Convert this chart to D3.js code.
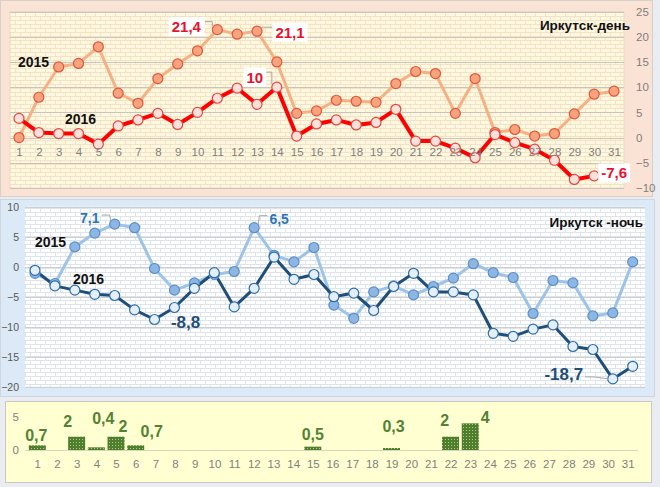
<!DOCTYPE html>
<html><head><meta charset="utf-8">
<script src="https://cdn.jsdelivr.net/npm/d3@7"></script>
<style>
html,body{margin:0;padding:0;background:#E9EDF2;}
svg{display:block;font-family:"Liberation Sans",Arial,sans-serif;}
</style></head>
<body>
<svg id="c" width="660" height="487"></svg>
<script>
// ---------- DATA ----------
const days = d3.range(1, 32);
const dayTicks = [-10, -5, 0, 5, 10, 15, 20, 25];
const nightTicks = [10, 5, 0, -5, -10, -15, -20];
const precipTicks = [0, 5];

const day2015 = [0.0, 8.0, 14.0, 14.7, 18.0, 8.8, 6.8, 11.7, 14.6, 17.2, 21.4, 20.5, 21.1, 15.0, 4.8, 5.3,
  7.4, 7.2, 7.0, 10.7, 13.1, 12.7, 4.8, 11.7, 1.0, 1.6, 0.3, 0.8, 4.7, 8.6, 9.2];
const day2016 = [3.8, 1.0, 0.8, 0.8, -1.3, 2.3, 3.5, 4.8, 2.6, 5.0, 7.8, 9.8, 6.6, 10.0, 0.3, 2.7,
  3.5, 2.5, 3.0, 5.6, -0.7, -0.7, -2.1, -4.0, 0.6, -1.0, -2.3, -4.5, -8.3, -7.6, null];
const night2015 = [-1.1, -2.8, 3.3, 5.6, 7.1, 6.5, -0.3, -3.9, -2.7, -1.3, -0.8, 6.5, 1.9, 0.8, 3.2, -6.4,
  -8.6, -4.2, -3.2, -4.7, -3.3, -1.9, 0.5, -1.0, -1.8, -7.8, -2.3, -2.7, -8.2, -7.7, 0.8];
const night2016 = [-0.6, -3.2, -3.9, -4.6, -4.8, -7.2, -8.8, -6.8, -3.6, -1.0, -6.7, -3.6, 1.6, -2.1, -1.3, -5.0,
  -4.4, -7.3, -3.3, -1.1, -4.2, -4.2, -4.7, -11.1, -11.6, -10.4, -9.7, -13.3, -13.8, -18.7, -16.6];
const precipDays = [1, 3, 4, 5, 6, 15, 19, 22, 23];
const precipValues = [0.7, 2, 0.4, 2, 0.7, 0.5, 0.3, 2, 4];

const dayLabels = [ // highlighted values
  {series: "2015", day: 11, text: "21,4"},
  {series: "2015", day: 13, text: "21,1"},
  {series: "2016", day: 14, text: "10"},
  {series: "2016", day: 30, text: "-7,6"}
];
const nightLabels = [
  {series: "2015", day: 5, text: "7,1"},
  {series: "2015", day: 12, text: "6,5"},
  {series: "2016", day: 7, text: "-8,8"},
  {series: "2016", day: 30, text: "-18,7"}
];
const precipLabels = ["0,7", "2", "0,4", "2", "0,7", "0,5", "0,3", "2", "4"];

// ---------- LAYOUT (positions only) ----------
const dayLabelOffsets = [[-31, -3], [33, 1], [-22, -10], [20, -3]];
const nightLabelOffsets = [[-25, -6], [25, -9], [31, 3], [-49, -4]];
const precipLabelOffsets = [[-1, -10], [-9, -15], [7, -29], [7, -10], [16, -14], [0, -12], [2, -22], [-6, -16], [15, -6]];

const svg = d3.select("#c");
const defs = svg.append("defs");

function brick(id, bg, line) {
  const p = defs.append("pattern").attr("id", id).attr("patternUnits", "userSpaceOnUse")
    .attr("width", 10).attr("height", 8);
  p.append("rect").attr("width", 10).attr("height", 8).attr("fill", bg);
  p.append("path").attr("d", "M0,0.5H10M0,4.5H10M0.5,0V4M5.5,4V8")
    .attr("stroke", line).attr("stroke-width", 1).attr("fill", "none");
}
brick("brickDay", "#FFF7E0", "#F1E4C4");
brick("brickNight", "#FFFFFF", "#DDE4EE");
const dots = defs.append("pattern").attr("id", "dots").attr("patternUnits", "userSpaceOnUse")
  .attr("width", 3).attr("height", 3);
dots.append("rect").attr("width", 3).attr("height", 3).attr("fill", "#4F7F2C");
dots.append("rect").attr("x", 1).attr("y", 1).attr("width", 1).attr("height", 1).attr("fill", "#A9C98E");

function styleAxis(g, color, size) {
  g.select(".domain").remove();
  g.selectAll("text").attr("fill", color).attr("font-size", size || 11.5).attr("font-family", "Liberation Sans, Arial");
}

// ================= TOP PANEL (day) =================
svg.append("rect").attr("x", 0.5).attr("y", 0.5).attr("width", 652).attr("height", 196)
  .attr("fill", "#FAE3D5").attr("stroke", "#D6D0CC");
const xD = d3.scaleLinear().domain([1, 31]).range([19, 614]);
const yD = d3.scaleLinear().domain([-10, 25]).range([188, 11.5]);
svg.append("rect").attr("x", 10).attr("y", 11.5).attr("width", 614).attr("height", 176.5)
  .attr("fill", "url(#brickDay)").attr("stroke", "#EADBC8");
const gD = svg.append("g");
gD.selectAll("line.grid").data(dayTicks).join("line")
  .attr("x1", 10).attr("x2", 624).attr("y1", d => Math.round(yD(d)) + 0.5).attr("y2", d => Math.round(yD(d)) + 0.5)
  .attr("stroke", "#C9C4BC").attr("stroke-width", 1);
const gAxR = svg.append("g").attr("transform", "translate(636,0)")
  .call(d3.axisRight(yD).tickValues(dayTicks).tickSize(0).tickPadding(0).tickFormat(d3.format("d")));
styleAxis(gAxR, "#7F7F7F");
const gAxBD = svg.append("g").attr("transform", `translate(0,${yD(0) + 10})`)
  .call(d3.axisBottom(xD).tickValues(days).tickSize(0).tickPadding(0).tickFormat(d3.format("d")));
styleAxis(gAxBD, "#7F7F7F");

const lineD = d3.line().defined(d => d[1] != null).x(d => xD(d[0])).y(d => yD(d[1]));
const d15 = days.map((d, i) => [d, day2015[i]]);
const d16 = days.map((d, i) => [d, day2016[i]]);
gD.append("path").attr("d", lineD(d15)).attr("fill", "none").attr("stroke", "#F4B183").attr("stroke-width", 3).attr("stroke-linejoin", "round");
gD.selectAll("circle.a").data(d15).join("circle").attr("class", "a")
  .attr("cx", d => xD(d[0])).attr("cy", d => yD(d[1])).attr("r", 5)
  .attr("fill", "#F6A47E").attr("stroke", "#E2553A").attr("stroke-width", 1.2);
gD.append("path").attr("d", lineD(d16)).attr("fill", "none").attr("stroke", "#FF0000").attr("stroke-width", 4).attr("stroke-linejoin", "round");
gD.selectAll("circle.b").data(d16.filter(d => d[1] != null)).join("circle").attr("class", "b")
  .attr("cx", d => xD(d[0])).attr("cy", d => yD(d[1])).attr("r", 5)
  .attr("fill", "#FCE0DA").attr("stroke", "#E2463C").attr("stroke-width", 1.2);

dayLabels.forEach((l, i) => {
  const arr = l.series === "2015" ? day2015 : day2016;
  const px = xD(l.day), py = yD(arr[l.day - 1]);
  const [ox, oy] = dayLabelOffsets[i];
  const cx = px + ox, cy = py + oy;
  const g = svg.append("g");
  const lead = g.append("path");
  const box = g.append("rect");
  const t = g.append("text").attr("x", cx).attr("y", cy).attr("text-anchor", "middle").attr("dominant-baseline", "central")
    .attr("font-weight", "bold").attr("font-size", 15).attr("fill", "#E8112D").text(l.text);
  const bb = t.node().getBBox();
  const edgeX = ox < 0 ? bb.x + bb.width + 3 : bb.x - 3;
  lead.attr("d", `M${edgeX},${cy - 5}H${px + (ox < 0 ? -5 : 5)}V${py - 3}`)
    .attr("stroke", "#A6A6A6").attr("fill", "none").attr("stroke-width", 1);
  box.attr("x", bb.x - 3).attr("y", bb.y - 1).attr("width", bb.width + 6).attr("height", bb.height + 2)
    .attr("fill", "#FFFFFF");
});
svg.append("text").attr("x", 630).attr("y", 25).attr("text-anchor", "end").attr("dominant-baseline", "central")
  .attr("font-weight", "bold").attr("font-size", 13.5).attr("fill", "#111").text("Иркутск-день");
svg.append("text").attr("x", 18).attr("y", 62).attr("dominant-baseline", "central")
  .attr("font-weight", "bold").attr("font-size", 14).attr("fill", "#111").text("2015");
svg.append("text").attr("x", 65).attr("y", 119).attr("dominant-baseline", "central")
  .attr("font-weight", "bold").attr("font-size", 14).attr("fill", "#111").text("2016");

// ================= MIDDLE PANEL (night) =================
svg.append("rect").attr("x", 0.5).attr("y", 199.5).attr("width", 654).attr("height", 197)
  .attr("fill", "#DCE9F6").attr("stroke", "#CFD6DE");
const xN = d3.scaleLinear().domain([1, 31]).range([35, 632.7]);
const yN = d3.scaleLinear().domain([-20, 10]).range([386.7, 206.7]);
svg.append("rect").attr("x", 25).attr("y", 206.7).attr("width", 620).attr("height", 180)
  .attr("fill", "url(#brickNight)");
const gN = svg.append("g");
gN.selectAll("line").data(nightTicks).join("line")
  .attr("x1", 25).attr("x2", 645).attr("y1", d => Math.round(yN(d)) + 0.5).attr("y2", d => Math.round(yN(d)) + 0.5)
  .attr("stroke", "#CFCFCF").attr("stroke-width", 1);
const gAxL = svg.append("g").attr("transform", "translate(19,0)")
  .call(d3.axisLeft(yN).tickValues(nightTicks).tickSize(0).tickPadding(0).tickFormat(d3.format("d")));
styleAxis(gAxL, "#595959", 10.5);

const lineN = d3.line().x(d => xN(d[0])).y(d => yN(d[1]));
const n15 = days.map((d, i) => [d, night2015[i]]);
const n16 = days.map((d, i) => [d, night2016[i]]);
gN.append("path").attr("d", lineN(n15)).attr("fill", "none").attr("stroke", "#9DC3E6").attr("stroke-width", 3).attr("stroke-linejoin", "round");
gN.append("path").attr("d", lineN(n16)).attr("fill", "none").attr("stroke", "#1F4E79").attr("stroke-width", 3).attr("stroke-linejoin", "round");
gN.selectAll("circle.a").data(n15).join("circle").attr("class", "a")
  .attr("cx", d => xN(d[0])).attr("cy", d => yN(d[1])).attr("r", 5)
  .attr("fill", "#8DB7E2").attr("stroke", "#5B8ECB").attr("stroke-width", 1.2);
gN.selectAll("circle.b").data(n16).join("circle").attr("class", "b")
  .attr("cx", d => xN(d[0])).attr("cy", d => yN(d[1])).attr("r", 5)
  .attr("fill", "#E4EFFA").attr("stroke", "#2E6DA8").attr("stroke-width", 1.2);

nightLabels.forEach((l, i) => {
  const arr = l.series === "2015" ? night2015 : night2016;
  const px = xN(l.day), py = yN(arr[l.day - 1]);
  const [ox, oy] = nightLabelOffsets[i];
  const big = l.series === "2016";
  const g = svg.append("g");
  const lead = g.append("path");
  const t = g.append("text").attr("x", px + ox).attr("y", py + oy).attr("text-anchor", "middle").attr("dominant-baseline", "central")
    .attr("font-weight", "bold").attr("font-size", big ? 17 : 14).attr("fill", big ? "#1F4E79" : "#2E75B6").text(l.text);
  const bb = t.node().getBBox();
  if (l.day !== 7) {
    const edgeX = ox < 0 ? bb.x + bb.width + 2 : bb.x - 2;
    const ly = big ? py + oy + 2 : py + oy - 3;
    lead.attr("d", `M${edgeX},${ly}H${edgeX + (ox < 0 ? 8 : -8)}L${px + (ox < 0 ? -4 : 4)},${py - (big ? 0 : 3)}`)
      .attr("stroke", "#A6A6A6").attr("fill", "none").attr("stroke-width", 1);
  }
});
svg.append("text").attr("x", 643).attr("y", 222).attr("text-anchor", "end").attr("dominant-baseline", "central")
  .attr("font-weight", "bold").attr("font-size", 13.5).attr("fill", "#111").text("Иркутск -ночь");
svg.append("text").attr("x", 35).attr("y", 242).attr("dominant-baseline", "central")
  .attr("font-weight", "bold").attr("font-size", 14).attr("fill", "#111").text("2015");
svg.append("text").attr("x", 73).attr("y", 279).attr("dominant-baseline", "central")
  .attr("font-weight", "bold").attr("font-size", 14).attr("fill", "#111").text("2016");

// ================= BOTTOM PANEL (precip) =================
svg.append("rect").attr("x", 5.5).attr("y", 401.5).attr("width", 646).attr("height", 81)
  .attr("fill", "#FFFFD2").attr("stroke", "#C8C8C8");
const xP = d3.scaleLinear().domain([1, 31]).range([37.3, 627.7]);
const yP = d3.scaleLinear().domain([0, 5]).range([450, 416.7]);
svg.append("line").attr("x1", 25).attr("x2", 638).attr("y1", 450.5).attr("y2", 450.5).attr("stroke", "#D6D6C0");
const gAxLP = svg.append("g").attr("transform", "translate(19,0)")
  .call(d3.axisLeft(yP).tickValues(precipTicks).tickSize(0).tickPadding(0).tickFormat(d3.format("d")));
styleAxis(gAxLP, "#7F7F7F");
const gAxBP = svg.append("g").attr("transform", "translate(0,460)")
  .call(d3.axisBottom(xP).tickValues(days).tickSize(0).tickPadding(0).tickFormat(d3.format("d")));
styleAxis(gAxBP, "#7F7F7F");
const bw = 17;
svg.append("g").selectAll("rect").data(precipDays.map((d, i) => [d, precipValues[i]])).join("rect")
  .attr("x", d => xP(d[0]) - bw / 2).attr("width", bw)
  .attr("y", d => yP(d[1])).attr("height", d => yP(0) - yP(d[1]))
  .attr("fill", "url(#dots)");
svg.append("g").selectAll("text").data(precipDays.map((d, i) => [d, precipValues[i], precipLabels[i], precipLabelOffsets[i]])).join("text")
  .attr("x", d => xP(d[0]) + d[3][0]).attr("y", d => yP(d[1]) + d[3][1])
  .attr("text-anchor", "middle").attr("dominant-baseline", "central")
  .attr("font-weight", "bold").attr("font-size", 16).attr("fill", "#548235").text(d => d[2]);
</script>
</body></html>
